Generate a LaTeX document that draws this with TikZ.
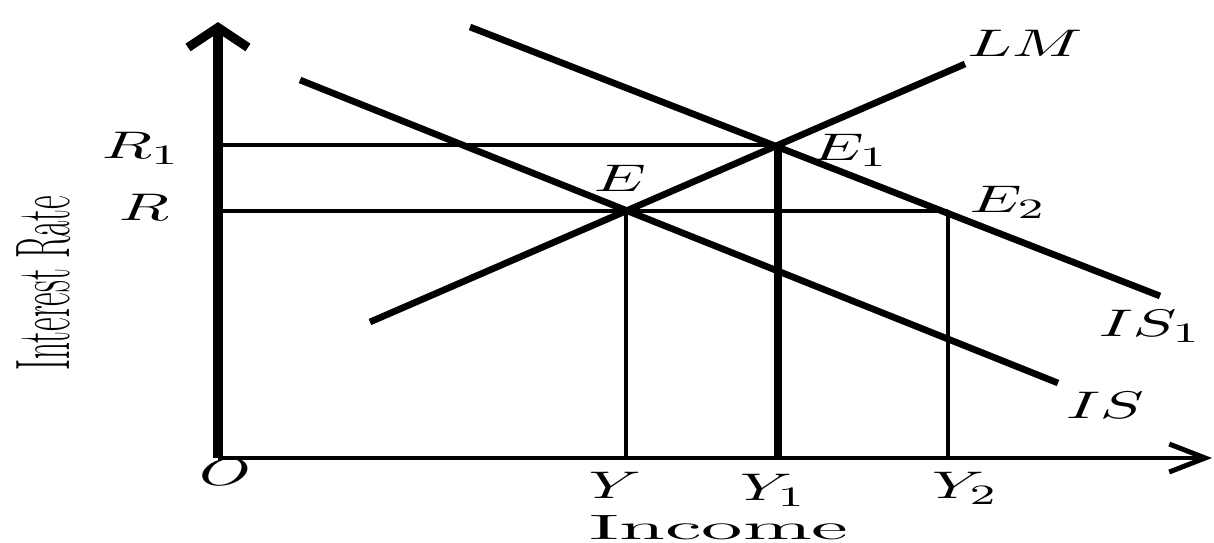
\documentclass[tikz,border=0pt]{standalone}
\usetikzlibrary{arrows.meta}

\begin{document}
\begin{tikzpicture}[
  % sloped schedules (IS, IS1, LM)
  curve/.style={line width=1.9pt},
  guide/.style={line width=1.3pt},
  axisline/.style={line width=#1},
  % labels are wide, so stretch them horizontally
  lbl/.style={font=\fontsize{11}{13}\selectfont, xscale=1.7, inner sep=0pt},
  axistitle/.style={font=\fontsize{#1}{#1}\selectfont, inner sep=0pt}
]
\useasboundingbox (0,0) rectangle (12.14,5.42);

% Axes
\coordinate (O)    at (2.18,0.84);
\coordinate (ytop) at (2.18,5.20);
\coordinate (xend) at (12.12,0.84);
\draw[axisline=1.4pt, -{Straight Barb[length=0.36cm, width=0.28cm]}] (O) -- (xend);
\draw[axisline=2.6pt, -{Straight Barb[length=0.2cm, width=0.6cm]}] (O) -- (ytop);

% Equilibrium points
\coordinate (E)  at (6.26,3.31);
\coordinate (E1) at (7.78,3.97);
\coordinate (E2) at (9.48,3.31);
\coordinate (R)  at (O |- E);
\coordinate (R1) at (O |- E1);
\coordinate (Y)  at (E |- O);
\coordinate (Y1) at (E1 |- O);
\coordinate (Y2) at (E2 |- O);

% Schedules
\coordinate (lm-a)  at (3.70,2.20);
\coordinate (lm-b)  at (9.65,4.78);
\coordinate (is-a)  at (3.00,4.62);
\coordinate (is-b)  at (10.58,1.59);
\coordinate (is1-a) at (4.70,5.15);
\coordinate (is1-b) at (11.60,2.46);
\draw[curve] (lm-a) -- (lm-b);
\draw[curve] (is-a) -- (is-b);
\draw[curve] (is1-a) -- (is1-b);

% Guide lines
\draw[guide] (R1) -- (E1);
\draw[guide] (R) -- (E2);
\draw[guide] (E) -- (Y);
\draw[guide] (E2) -- (Y2);
\draw[axisline=2.4pt] (E1) -- (Y1);

% Labels
\node[lbl] (lm-lbl)  at (10.25,4.99) {$LM$};
\node[lbl] (is1-lbl) at (11.50,2.16) {$IS_1$};
\node[lbl] (is-lbl)  at (11.05,1.37) {$IS$};
\node[lbl] (e-lbl)   at (6.20,3.64)  {$E$};
\node[lbl] (e1-lbl)  at (8.50,3.92)  {$E_1$};
\node[lbl] (e2-lbl)  at (10.08,3.40) {$E_2$};
\node[lbl] (r1-lbl)  at (1.41,3.94)  {$R_1$};
\node[lbl] (r-lbl)   at (1.44,3.35)  {$R$};
\node[lbl] (o-lbl)   at (2.25,0.70)  {$O$};
\node[lbl] (y-lbl)   at (6.15,0.57)  {$Y$};
\node[lbl] (y1-lbl)  at (7.73,0.52)  {$Y_1$};
\node[lbl] (y2-lbl)  at (9.65,0.54)  {$Y_2$};

% Axis titles
\node[axistitle=10, xscale=2.35, anchor=base] (xtitle) at (7.19,0.03) {Income};
\node[axistitle=22, rotate=90, xscale=0.43] (ytitle) at (0.44,2.59) {Interest Rate};

\end{tikzpicture}
\end{document}
